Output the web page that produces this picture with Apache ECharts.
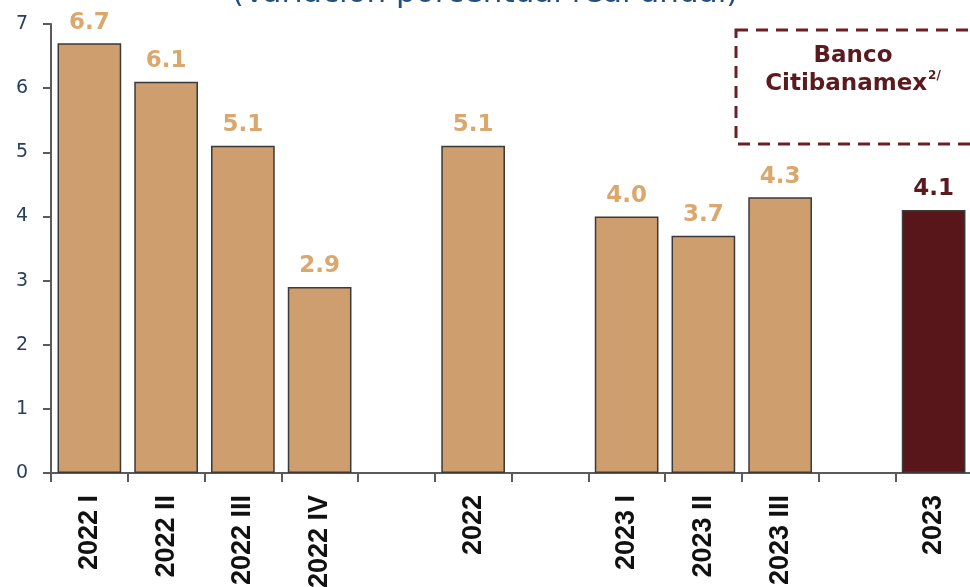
<!DOCTYPE html>
<html>
<head>
<meta charset="utf-8">
<script src="https://cdn.jsdelivr.net/npm/echarts@6/dist/echarts.min.js"></script>
<style>
  html, body { margin: 0; padding: 0; background: #fff; }
  #chart { width: 970px; height: 587px; }
</style>
</head>
<body>
<div id="chart"></div>
<script>
// Periods on the x axis; blank entries leave a gap between groups
var categories = ['2022 I', '2022 II', '2022 III', '2022 IV', '', '2022', ' ', '2023 I', '2023 II', '2023 III', '  ', '2023'];
// Real annual growth (%)
var growth = [6.7, 6.1, 5.1, 2.9, null, 5.1, null, 4.0, 3.7, 4.3, null, 4.1];
// Period that holds the Banco Citibanamex forecast
var forecastPeriod = '2023';
var yTicks = [0, 1, 2, 3, 4, 5, 6, 7];

var TAN = '#CF9E6E', TAN_LABEL = '#DAA76C', MAROON = '#58161A';

var barData = growth.map(function (v, i) {
  var fc = categories[i] === forecastPeriod;
  return {
    value: v,
    itemStyle: { color: fc ? MAROON : TAN },
    label: { color: fc ? '#5A1A1E' : TAN_LABEL }
  };
});

var chart = echarts.init(document.getElementById('chart'), null, { renderer: 'canvas' });
chart.setOption({
  animation: false,
  grid: { left: 51, right: -2, top: 24, bottom: 114, containLabel: false, outerBoundsMode: 'none' },
  xAxis: {
    type: 'category',
    data: categories,
    boundaryGap: true,
    axisLine: { lineStyle: { color: '#5a5a5a', width: 2 } },
    axisTick: { show: true, length: 9, lineStyle: { color: '#5a5a5a', width: 2 } },
    axisLabel: {
      interval: 0,
      rotate: 90,
      margin: 22,
      fontFamily: 'Liberation Sans',
      fontWeight: 'bold',
      fontSize: 27,
      color: '#111'
    }
  },
  yAxis: {
    type: 'value',
    min: yTicks[0],
    max: yTicks[yTicks.length - 1],
    interval: 1,
    splitLine: { show: false },
    axisLine: { show: true, lineStyle: { color: '#5a5a5a', width: 2 } },
    axisTick: { show: true, length: 8, lineStyle: { color: '#5a5a5a', width: 2 } },
    axisLabel: {
      margin: 23,
      fontFamily: 'DejaVu Sans',
      fontSize: 19,
      color: '#27405f'
    }
  },
  series: [{
    type: 'bar',
    data: barData,
    barWidth: '83%',
    itemStyle: { borderColor: '#3a3a3a', borderWidth: 1.5 },
    label: {
      show: true,
      position: 'top',
      distance: 9,
      fontFamily: 'DejaVu Sans',
      fontWeight: 'bold',
      fontSize: 23,
      formatter: function (p) { return p.value.toFixed(1); }
    }
  }],
  graphic: [
    {
      type: 'text',
      x: 485,
      y: -6,
      style: {
        text: '(Variación porcentual real anual)',
        font: '31px "DejaVu Sans"',
        fill: '#23507c',
        align: 'center',
        verticalAlign: 'middle'
      }
    },
    {
      type: 'rect',
      shape: { x: 736, y: 30, width: 260, height: 114 },
      style: { fill: 'none', stroke: '#6b1f25', lineWidth: 3, lineDash: [12, 8] }
    },
    {
      type: 'text',
      x: 853,
      y: 70,
      style: {
        text: '{b|Banco}\n{b|Citibanamex}{s|2/}',
        align: 'center',
        verticalAlign: 'middle',
        rich: {
          b: { font: 'bold 23px "DejaVu Sans"', fill: '#5A1A1E', lineHeight: 28 },
          s: { font: 'bold 12px "DejaVu Sans"', fill: '#5A1A1E', verticalAlign: 'top', lineHeight: 28, padding: [0, 0, 12, 1] }
        }
      }
    }
  ]
});
</script>
</body>
</html>
